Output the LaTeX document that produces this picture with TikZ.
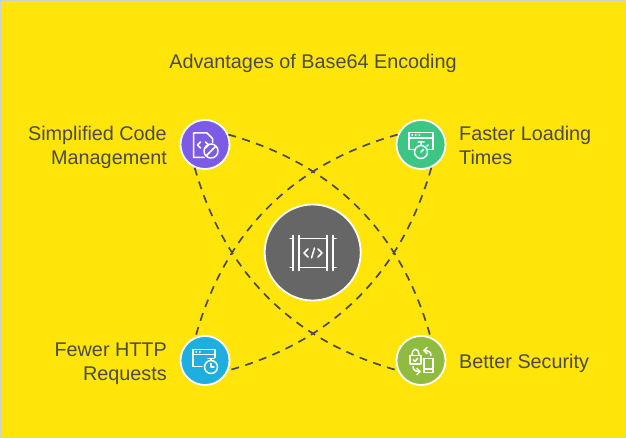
\documentclass[tikz,border=0pt]{standalone}
\usepackage{fontspec}
\setmainfont{Liberation Sans}
\definecolor{bgy}{HTML}{FFE509}
\definecolor{ink}{HTML}{4A4A4A}
\definecolor{cpurple}{HTML}{7C5CE6}
\definecolor{cgreen}{HTML}{3CC583}
\definecolor{cblue}{HTML}{1EAEDF}
\definecolor{clime}{HTML}{8FBC3F}
\definecolor{cgray}{HTML}{666666}
\tikzset{
 badge/.style={circle,draw=white,line width=1.8pt,minimum size=49pt,inner sep=0pt},
 hub/.style={circle,draw=white,line width=1.8pt,fill=cgray,minimum size=96pt,inner sep=0pt},
 orbit/.style={draw=ink,line width=1.7pt,dash pattern=on 8pt off 6.5pt},
 lab/.style={text=ink,font=\fontsize{19.8}{24}\selectfont,inner sep=0pt},
 ico/.style={draw=white,line width=1.5pt,line cap=round,line join=round},
}
\begin{document}
\begin{tikzpicture}[x=1pt,y=-1pt]
\useasboundingbox (0,0) rectangle (626,438);
\fill[bgy] (0,0) rectangle (626,438);
\draw[black!18,line width=.5pt] (.5,.5) rectangle (625.5,437.5);
\node[lab,anchor=center] (title) at (313,63.5) {Advantages of Base64 Encoding};
\node[hub] (hubn) at (312.7,252.5) {};
\node[badge,fill=cpurple] (pu) at (205,144.5) {};
\node[badge,fill=cgreen] (gr) at (421,144.5) {};
\node[badge,fill=cblue] (bl) at (205,360.5) {};
\node[badge,fill=clime] (li) at (421,360.5) {};
% connectors
\draw[orbit] (pu.23) .. controls (333,164) and (401,231) .. (li.68);
\draw[orbit] (pu.-114) .. controls (225,274) and (293,341) .. (li.-157);
\draw[orbit] (gr.157) .. controls (293,164) and (225,231) .. (bl.112);
\draw[orbit] (gr.-66) .. controls (401,274) and (333,341) .. (bl.-23);
% labels
\node[lab,align=right,anchor=east] (l1) at (167,147) {Simplified Code\\Management};
\node[lab,align=left,anchor=west] (l2) at (459,145) {Faster Loading\\Times};
\node[lab,align=right,anchor=east] (l3) at (167,363.5) {Fewer HTTP\\Requests};
\node[lab,anchor=west] (l4) at (459,363) {Better Security};
% hub icon
\begin{scope}[ico,shift={(313,253)}]
\draw (-14,-14.7) rectangle (14,14.7);
\draw (-14,-17.5)--(-14,17.5) (14,-17.5)--(14,17.5);
\draw (-20,-17.5)--(-20,17.5) (20,-17.5)--(20,17.5);
\draw (-23,-14.7)--(-20,-14.7) (23,-14.7)--(20,-14.7) (-23,14.7)--(-20,14.7) (23,14.7)--(20,14.7);
\draw (-5,-4)--(-9,0)--(-5,4) (5,-4)--(9,0)--(5,4) (1.5,-5)--(-1.5,5);
\end{scope}
% purple icon
\begin{scope}[ico,shift={(205,144.5)}]
\draw (-1,13)--(-11.5,13)--(-11.5,-11.5)--(2,-11.5)--(7.5,-6)--(7.5,-2);
\draw (-4.5,-2.5)--(-7.5,.5)--(-4.5,3.5) (.5,-2.5)--(3.5,.5)--(.5,3.5);
\draw (6,6.5) circle (7);
\draw (1.5,11)--(10.5,2);
\end{scope}
% green icon
\begin{scope}[ico,shift={(421,144.5)}]
\draw (-6,5)--(-12,5)--(-12,-12)--(12,-12)--(12,5)--(7,5);
\draw (-12,-6.5)--(12,-6.5);
\draw (-9,-9.3)--(-8.5,-9.3) (-5.5,-9.3)--(-5,-9.3) (-2,-9.3)--(-1.5,-9.3);
\draw (0,7.5) circle (6.5);
\draw (0,7.5)--(2.5,5) (0,1)--(0,-2.5) (-3,-2.5)--(3,-2.5) (6,1.5)--(7,.5);
\end{scope}
% blue icon
\begin{scope}[ico,shift={(205,360.5)}]
\draw (-3,6)--(-12,6)--(-12,-11)--(10,-11)--(10,-3);
\draw (-12,-6)--(10,-6);
\draw (-9,-8.5)--(-8.5,-8.5) (-5.5,-8.5)--(-5,-8.5);
\draw (6,6.5) circle (6.5);
\draw (6,3)--(6,6.5)--(9,6.5) (6,0)--(6,-2) (3,-2)--(9,-2);
\end{scope}
% lime icon
\begin{scope}[ico,shift={(421,360.5)}]
\draw (-11,-5) rectangle (0,3.5);
\draw (-9,-5) .. controls (-9,-13.5) and (-2,-13.5) .. (-2,-5);
\draw (-7.5,-.5)--(-6,1)--(-3.5,-2);
\draw (3,-2) rectangle (12,12);
\draw (3,8.5)--(12,8.5);
\draw (10,-5) .. controls (10,-9) and (7,-10) .. (3,-10);
\draw (6,-13)--(3,-10)--(6,-7);
\draw (-8,6) .. controls (-8,10) and (-5,11) .. (-1,11);
\draw (-4,8)--(-1,11)--(-4,14);
\end{scope}
\end{tikzpicture}
\end{document}
